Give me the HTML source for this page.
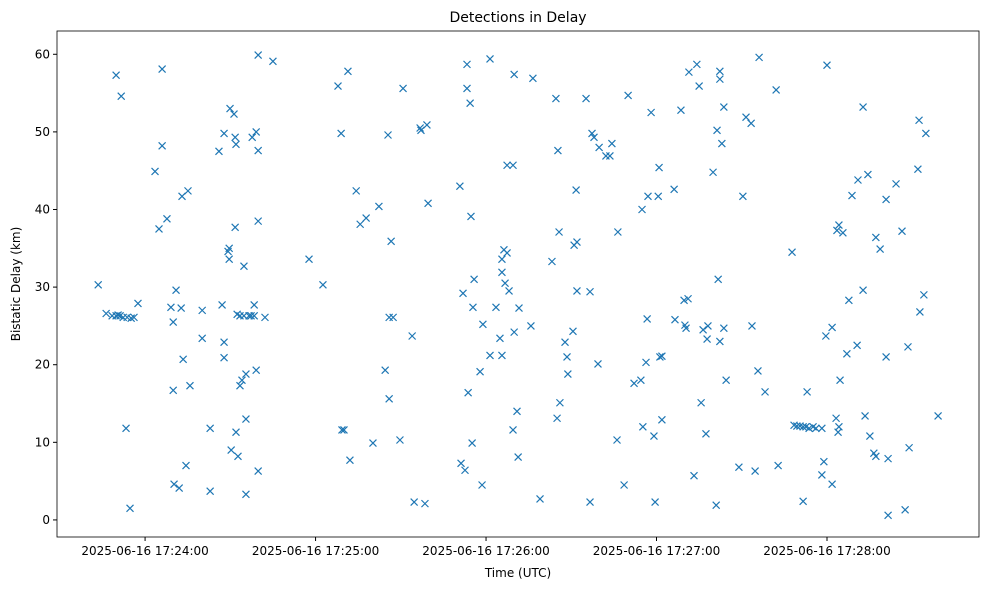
<!DOCTYPE html>
<html><head><meta charset="utf-8"><style>
body{margin:0;background:#fff;font-family:"Liberation Sans","DejaVu Sans",sans-serif}
svg text{font-family:"DejaVu Sans","Liberation Sans",sans-serif;fill:#000}
</style></head><body>
<svg id="chart" width="989" height="590" xmlns="http://www.w3.org/2000/svg">
<rect width="989" height="590" fill="#fff"/>
<text x="518" y="22" text-anchor="middle" font-size="14">Detections in Delay</text>
<g id="marks"></g>
<g id="axes"></g>
<rect x="57" y="31" width="922" height="506" fill="none" stroke="#000" stroke-width="0.8"/>
<text x="518" y="577" text-anchor="middle" font-size="12">Time (UTC)</text>
<text transform="translate(20,284) rotate(-90)" text-anchor="middle" font-size="12">Bistatic Delay (km)</text>
</svg>
<script>
// seconds after 17:24:00 UTC
const times = [-16.5,-13.7,-11.6,-10.2,-9.5,-8.8,-7.7,-6.3,-4.9,-3.9,-10.2,-8.4,-6.7,-5.3,-2.5,3.5,4.9,6.0,6.0,7.7,9.1,9.9,9.9,10.2,10.9,12.0,12.7,13.0,13.4,14.4,15.1,15.8,20.1,20.1,22.9,22.9,26.0,27.1,27.8,27.8,27.8,29.9,29.2,29.6,29.6,30.3,31.3,31.7,31.7,32.0,32.4,32.0,32.7,33.4,33.4,34.1,34.8,34.8,35.5,35.5,35.5,36.6,37.3,37.7,38.4,38.4,39.1,39.1,39.8,39.8,39.8,39.8,42.2,45.0,57.7,62.6,67.9,69.0,69.3,70.0,71.4,72.1,74.3,75.7,77.8,80.2,82.3,84.5,85.5,85.9,85.9,86.6,87.3,89.7,90.8,94.0,94.7,96.8,97.1,98.5,99.2,99.6,110.8,111.2,111.9,112.6,113.3,113.3,113.7,114.4,114.7,115.1,115.4,115.8,117.9,118.6,118.9,121.4,121.4,123.5,124.9,125.6,125.6,125.6,126.3,126.7,127.4,127.4,128.1,129.5,129.5,129.9,129.9,130.9,131.3,131.6,135.8,136.5,139.0,143.2,144.6,145.0,145.3,145.7,146.0,147.8,148.5,148.8,150.6,151.0,151.7,152.0,152.0,155.2,156.6,156.6,157.3,158.0,159.4,159.8,162.2,163.6,164.3,166.1,166.4,168.6,170.0,172.1,174.5,174.9,175.2,176.3,176.7,177.0,178.1,179.1,179.5,180.6,180.9,181.2,181.9,181.9,186.2,186.5,188.6,189.7,190.0,190.4,191.1,191.4,193.2,194.2,195.0,195.7,196.4,197.4,197.8,198.1,199.9,201.3,201.7,202.3,202.3,202.3,203.0,203.7,203.7,204.5,209.0,210.4,211.5,213.3,213.6,214.7,215.7,216.1,218.2,222.1,222.8,227.7,228.4,229.4,230.5,231.6,232.6,233.7,235.1,236.1,238.2,238.9,238.2,240.0,239.6,241.8,241.8,243.2,243.5,243.9,244.2,244.2,244.6,245.6,247.0,247.7,248.8,250.6,250.9,252.7,252.7,253.4,254.4,255.1,256.5,257.2,257.2,258.7,260.8,260.8,261.5,261.5,264.3,266.4,267.5,268.5,268.9,272.0,272.4,272.7,274.1,274.8,279.1,231.6,233.0,201.0];
const delays = [30.3,26.6,26.3,26.3,26.4,26.3,26.1,26.1,26.0,26.1,57.3,54.6,11.8,1.5,27.9,44.9,37.5,58.1,48.2,38.8,27.4,25.5,16.7,4.6,29.6,4.1,27.3,41.7,20.7,7.0,42.4,17.3,27.0,23.4,11.8,3.7,47.5,27.7,49.8,20.9,22.9,53.0,34.6,35.0,33.6,9.0,52.3,49.3,37.7,11.3,26.5,48.4,8.2,26.3,17.3,18.0,32.7,26.3,18.8,13.0,3.3,26.3,26.3,49.3,27.7,26.3,50.0,19.3,47.6,38.5,6.3,59.9,26.1,59.1,33.6,30.3,55.9,49.8,11.6,11.6,57.8,7.7,42.4,38.1,38.9,9.9,40.4,19.3,49.6,15.6,26.1,35.9,26.1,10.3,55.6,23.7,2.3,50.5,50.2,2.1,50.9,40.8,43.0,7.3,29.2,6.4,58.7,55.6,16.4,53.7,39.1,9.9,27.4,31.0,19.1,4.5,25.2,59.4,21.2,27.4,23.4,21.2,33.6,31.9,34.8,30.5,45.7,34.4,29.5,45.7,11.6,24.2,57.4,14.0,8.1,27.3,25.0,56.9,2.7,33.3,54.3,13.1,47.6,37.1,15.1,22.9,21.0,18.8,24.3,35.4,42.5,29.5,35.8,54.3,29.4,2.3,49.8,49.3,20.1,48.0,46.9,46.9,48.5,10.3,37.1,4.5,54.7,17.6,18.0,40.0,12.0,20.3,25.9,41.7,52.5,10.8,2.3,41.7,45.4,21.0,12.9,21.1,42.6,25.8,52.8,28.3,25.1,24.7,28.5,57.7,5.7,58.7,55.9,15.1,24.5,11.1,23.3,25.0,44.8,50.2,31.0,57.8,56.8,23.0,48.5,53.2,24.7,18.0,6.8,41.7,51.9,51.1,25.0,6.3,19.2,59.6,16.5,55.4,7.0,34.5,12.2,12.1,12.1,12.0,12.0,11.8,12.0,11.8,11.8,7.5,5.8,58.6,23.7,24.8,4.6,13.1,37.3,11.3,38.0,12.0,18.0,37.0,21.4,28.3,41.8,22.5,43.8,53.2,29.6,13.4,44.5,10.8,8.6,8.2,36.4,34.9,41.3,21.0,0.6,7.9,43.3,37.2,1.3,22.3,9.3,45.2,51.5,26.8,29.0,49.8,13.4,2.4,16.5,1.9];
const xTicks = [0,60,120,180,240];
const xTickLabels = ["2025-06-16 17:24:00","2025-06-16 17:25:00","2025-06-16 17:26:00","2025-06-16 17:27:00","2025-06-16 17:28:00"];
const yTicks = [0,10,20,30,40,50,60];

const X0=57,X1=979,Y0=537,Y1=31, tMin=-31, tMax=293.5, dMin=-2.2, dMax=63.0;
function xs(t){return X0+(t-tMin)/(tMax-tMin)*(X1-X0);}
function ys(d){return Y0-(d-dMin)/(dMax-dMin)*(Y0-Y1);}
const NS="http://www.w3.org/2000/svg";
const marks=document.getElementById('marks'), axes=document.getElementById('axes');
for(let i=0;i<times.length;i++){
  const x=xs(times[i]), y=ys(delays[i]);
  const p=document.createElementNS(NS,'path');
  p.setAttribute('d',`M${x-3.5},${y-3.5}L${x+3.5},${y+3.5}M${x-3.5},${y+3.5}L${x+3.5},${y-3.5}`);
  p.setAttribute('stroke','#1f77b4');p.setAttribute('stroke-width','1.2');
  
  
  marks.appendChild(p);
}
xTicks.forEach((t,i)=>{
  const x=xs(t);
  const l=document.createElementNS(NS,'line');
  l.setAttribute('x1',x);l.setAttribute('x2',x);l.setAttribute('y1',Y0);l.setAttribute('y2',Y0+4);l.setAttribute('stroke','#000');
  
  
  axes.appendChild(l);
  const tx=document.createElementNS(NS,'text');
  tx.setAttribute('x',x);tx.setAttribute('y',Y0+18);tx.setAttribute('text-anchor','middle');tx.setAttribute('font-size','12');
  tx.textContent=xTickLabels[i];
  
  
  axes.appendChild(tx);
});
yTicks.forEach(v=>{
  const y=ys(v);
  const l=document.createElementNS(NS,'line');
  l.setAttribute('x1',X0-4);l.setAttribute('x2',X0);l.setAttribute('y1',y);l.setAttribute('y2',y);l.setAttribute('stroke','#000');
  
  
  axes.appendChild(l);
  const tx=document.createElementNS(NS,'text');
  tx.setAttribute('x',X0-7);tx.setAttribute('y',y+4);tx.setAttribute('text-anchor','end');tx.setAttribute('font-size','12');
  tx.textContent=String(v);
  
  
  axes.appendChild(tx);
});
</script>
</body></html>
